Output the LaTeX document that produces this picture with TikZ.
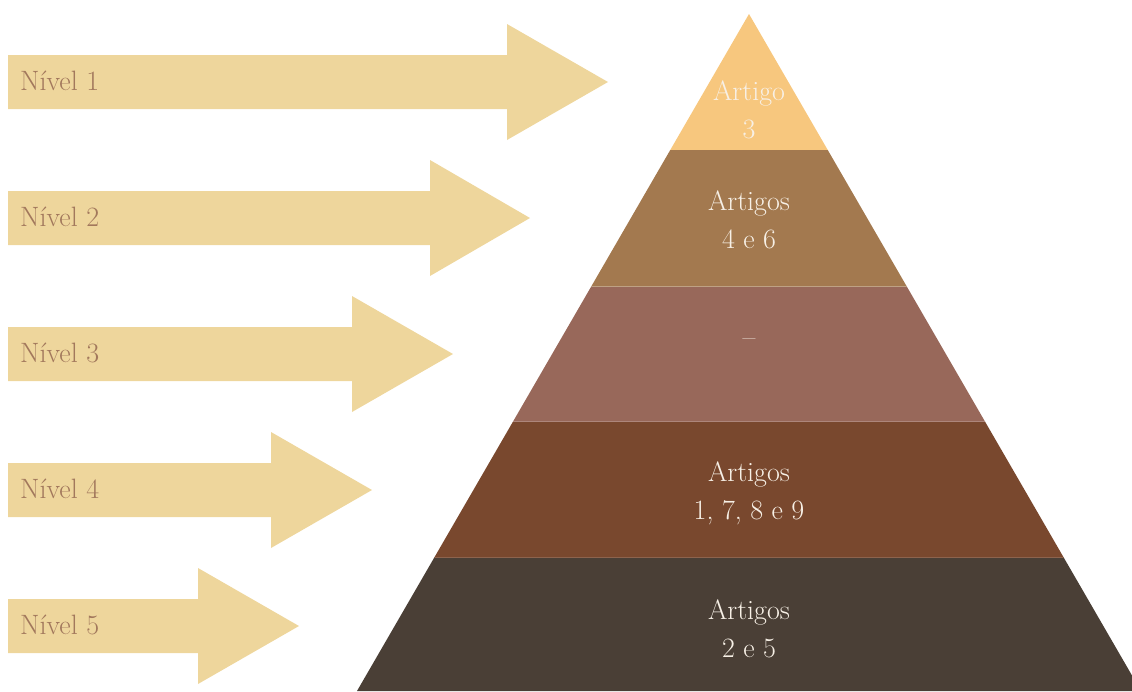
\documentclass[tikz,border=0pt]{standalone}
\definecolor{arrowcol}{HTML}{EED69C}
\definecolor{lvlcol}{HTML}{A2785C}
\definecolor{artcol}{HTML}{F7F0E6}
\definecolor{bandA}{HTML}{F7C77E}
\definecolor{bandB}{HTML}{A3794F}
\definecolor{bandC}{HTML}{98685A}
\definecolor{bandD}{HTML}{79482E}
\definecolor{bandE}{HTML}{4A3F36}
\tikzset{
  arrowshape/.style={fill=arrowcol},
  lvl/.style={text=lvlcol, font=\fontsize{28}{38}\selectfont, anchor=base west, inner sep=0pt},
  art/.style={text=artcol, font=\fontsize{28}{38}\selectfont, align=center, inner sep=0pt},
  sep/.style={line width=1pt}
}
\begin{document}
\begin{tikzpicture}[x=1pt,y=-1pt]
\useasboundingbox (0,0) rectangle (1132,691);
\clip (0,0) rectangle (1132,691);
% arrows
\foreach \y/\hx/\tx/\n in {82/507/608/1, 218/430/530/2, 354/352/453/3, 490/271/372/4, 626/198/299/5}{
  \fill[arrowshape] (8,\y-27) -- (\hx,\y-27) -- (\hx,\y-58) -- (\tx,\y) -- (\hx,\y+58) -- (\hx,\y+27) -- (8,\y+27) -- cycle;
  \node[lvl] (lvl\n) at (20,\y+8) {Nível \n};
}
% pyramid
\begin{scope}
  \clip (749,14) -- (357,691) -- (1141,691) -- cycle;
  \fill[bandA] (300,0) rectangle (1200,150);
  \fill[bandB] (300,150) rectangle (1200,286);
  \fill[bandC] (300,286) rectangle (1200,422);
  \fill[bandD] (300,422) rectangle (1200,557);
  \fill[bandE] (300,557) rectangle (1200,700);
  \draw[sep, bandB!70!white] (300,286.5) -- (1200,286.5);
  \draw[sep, bandC!80!white] (300,421.5) -- (1200,421.5);
  \draw[sep, bandD!85!white] (300,557) -- (1200,557);
\end{scope}
\node[art] (t1) at (749,110) {Artigo\\3};
\node[art] (t2) at (749,220) {Artigos\\4 e 6};
\node[art] (t3) at (749,343) {--};
\node[art] (t4) at (749,493) {Artigos\\1, 7, 8 e 9};
\node[art] (t5) at (749,629) {Artigos\\2 e 5};
\end{tikzpicture}
\end{document}
